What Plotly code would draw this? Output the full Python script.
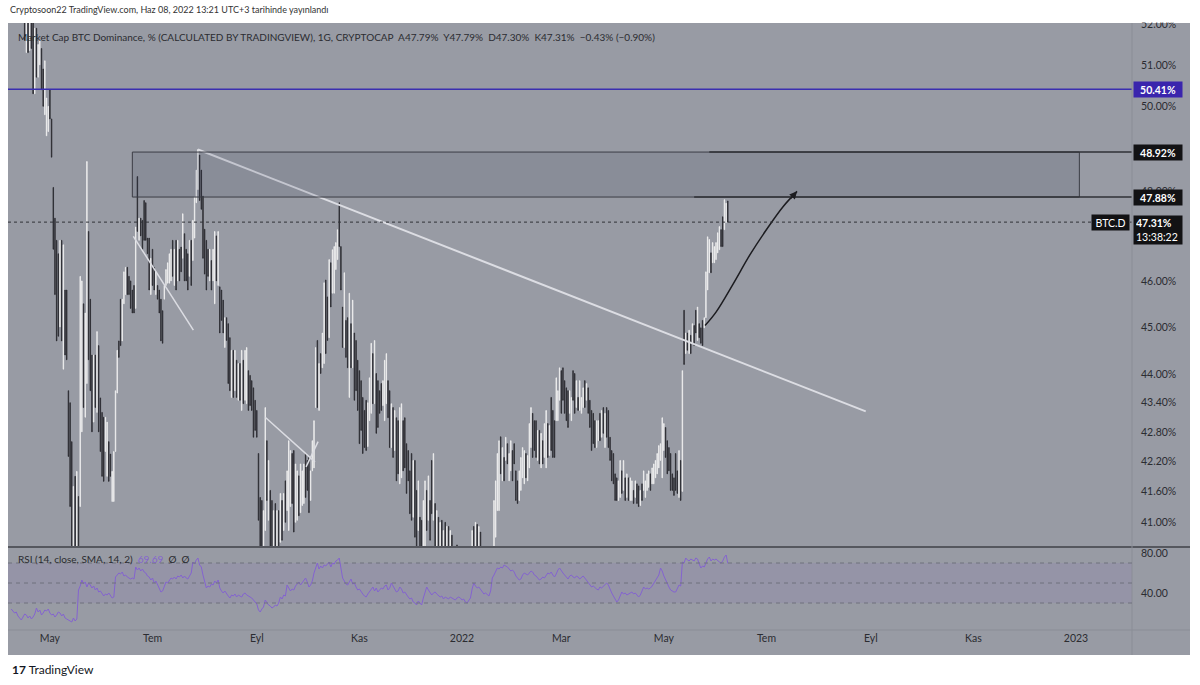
import math
import pandas as pd
import plotly.graph_objects as go

# ---------------- data (daily BTC.D candles) ----------------
start_date = "2021-04-08"

opens = [
    54.6, 54.1, 54.5, 53.8, 53.9, 53.2, 53.4, 52.8, 52.6, 51.3,
    52.4, 51.35, 52.4, 52.2, 50.3, 51.9, 50.7, 51.0, 51.4, 50.9,
    49.8, 49.3, 49.4, 50.4, 49.7, 48.1, 47.4, 46.9, 46.6, 45.0,
    46.9, 44.1, 45.8, 45.8, 43.65, 43.4, 42.6, 40.5, 41.9, 40.4,
    41.5, 41.3, 42.8, 45.5, 43.1, 43.8, 47.1, 45.6, 44.4, 43.0,
    44.4, 43.2, 44.6, 43.5, 43.2, 43.1, 42.4, 41.9, 42.6, 42.35,
    41.4, 41.4, 42.4, 43.6, 44.7, 45.6, 44.7, 45.5, 45.7, 46.3,
    46.1, 46.0, 45.8, 45.9, 45.4, 48.35, 46.9, 47.4, 47.35, 47.8,
    47.75, 46.95, 46.95, 45.7, 46.7, 46.3, 45.7, 45.9, 45.8, 45.6,
    45.35, 45.6, 45.9, 45.95, 45.95, 46.0, 46.9, 45.9, 46.9, 46.0,
    46.7, 46.75, 46.5, 47.05, 46.7, 46.6, 46.1, 46.9, 46.45, 46.95,
    47.75, 48.05, 48.85, 48.5, 47.9, 47.15, 46.9, 46.7, 46.0, 46.45,
    46.0, 45.5, 47.0, 45.9, 45.87, 45.8, 45.58, 44.56, 45.2, 45.07,
    44.77, 43.51, 44.5, 43.65, 44.29, 43.45, 44.22, 43.24, 44.29, 43.45,
    43.38, 44.07, 43.97, 43.86, 43.71, 43.45, 43.24, 42.36, 41.48, 41.42,
    40.45, 40.83, 42.62, 41.03, 41.62, 41.42, 40.45, 41.36, 40.5, 41.22,
    40.6, 41.42, 40.83, 41.81, 41.22, 40.83, 41.3, 42.36, 42.42, 40.99,
    41.03, 41.91, 41.18, 41.32, 41.36, 42.36, 42.22, 42.28, 41.42, 42.01,
    42.07, 43.3, 44.71, 43.24, 44.43, 44.13, 44.22, 46.02, 45.65, 44.77,
    46.4, 45.73, 45.73, 46.25, 46.47, 47.75, 46.76, 45.43, 44.56, 45.14,
    45.2, 43.51, 45.07, 44.13, 44.87, 44.71, 44.29, 44.07, 43.86, 43.51,
    43.24, 43.45, 42.5, 43.03, 43.18, 44.43, 43.38, 44.01, 43.86, 43.65,
    43.8, 43.34, 43.03, 43.38, 43.86, 43.65, 42.48, 43.3, 42.42, 43.09,
    43.03, 41.75, 41.87, 43.03, 43.09, 42.56, 42.42, 42.01, 42.36, 41.09,
    42.22, 41.62, 40.83, 41.09, 41.03, 40.45, 40.4, 41.62, 41.03, 41.42,
    42.22, 41.03, 41.36, 40.45, 41.09, 40.4, 41.03, 40.35, 40.99, 40.4,
    40.91, 40.3, 40.74, 40.3, 39.9, 40.55, 40.1, 40.4, 39.9, 40.3,
    39.8, 40.2, 39.7, 40.1, 40.1, 40.91, 40.35, 40.95, 40.3, 40.8,
    40.3, 39.9, 40.3, 39.7, 40.15, 39.6, 40.2, 40.4, 40.7, 41.22,
    41.22, 42.7, 41.81, 42.28, 42.22, 42.56, 41.81, 42.01, 42.42, 42.56,
    42.01, 41.81, 41.42, 41.62, 41.87, 41.75, 42.36, 41.81, 42.07, 42.48,
    43.18, 43.03, 43.03, 42.22, 42.83, 42.07, 42.62, 42.28, 42.07, 42.97,
    42.32, 43.51, 43.24, 43.03, 43.03, 43.03, 43.45, 44.07, 44.13, 43.86,
    43.71, 43.65, 43.18, 43.03, 44.07, 44.01, 43.3, 43.51, 43.24, 43.18,
    43.3, 43.86, 43.45, 43.71, 43.45, 43.24, 43.18, 43.03, 42.48, 42.62,
    43.18, 42.69, 43.3, 42.48, 43.3, 43.24, 42.69, 42.42, 42.36, 41.95,
    41.87, 41.42, 41.48, 42.01, 41.62, 41.87, 41.48, 41.87, 41.42, 41.42,
    41.62, 41.48, 41.75, 41.71, 41.32, 41.75, 41.62, 41.48, 41.62, 41.68,
    41.95, 41.75, 41.75, 41.87, 41.95, 42.07, 42.22, 41.87, 42.42, 42.89,
    42.62, 42.48, 42.36, 41.95, 41.87, 42.36, 42.01, 41.48, 42.22, 41.6,
    45.36, 44.43, 44.87, 44.43, 44.82, 44.65, 45.03, 45.36, 44.71, 45.07,
    44.98, 45.14, 44.98, 45.2, 45.8, 46.18, 46.62, 46.4, 46.4, 46.47,
    46.62, 46.69, 47.14, 47.43, 47.14, 47.3, 47.79,
]

closes = [
    54.1, 54.5, 53.8, 53.9, 53.2, 53.4, 52.8, 52.9, 51.6, 52.4,
    51.3, 52.3, 51.4, 50.3, 51.9, 50.7, 51.5, 51.6, 50.4, 50.0,
    51.1, 50.2, 50.0, 49.7, 48.8, 46.7, 45.7, 44.7, 44.8, 46.9,
    44.7, 46.8, 44.4, 44.3, 42.3, 41.3, 40.4, 41.7, 40.4, 42.0,
    40.3, 46.1, 46.0, 43.3, 45.3, 48.7, 44.3, 43.65, 42.8, 44.4,
    43.3, 44.9, 42.8, 42.4, 41.9, 41.8, 43.1, 43.0, 41.8, 41.9,
    42.0, 42.4, 43.65, 44.5, 44.35, 44.6, 45.6, 46.2, 46.3, 45.7,
    45.7, 45.4, 45.3, 45.3, 47.2, 47.1, 47.4, 47.0, 46.7, 46.9,
    46.9, 46.6, 45.8, 46.5, 45.9, 45.8, 46.2, 45.6, 45.3, 44.7,
    44.65, 45.9, 46.25, 46.4, 46.6, 46.7, 46.1, 46.7, 45.8, 46.9,
    46.0, 46.2, 47.5, 46.0, 46.0, 45.8, 46.9, 45.9, 47.35, 47.88,
    48.5, 48.98, 47.8, 47.6, 46.5, 46.15, 45.8, 46.1, 46.7, 45.8,
    46.7, 47.1, 46.0, 47.1, 44.87, 45.14, 44.87, 45.2, 44.71, 43.8,
    43.65, 44.5, 43.51, 44.5, 43.51, 44.22, 43.45, 44.5, 43.38, 44.5,
    44.56, 43.24, 43.34, 43.24, 42.69, 42.83, 42.69, 41.03, 40.45, 40.4,
    41.22, 43.3, 41.42, 42.22, 40.45, 40.4, 41.22, 40.4, 41.22, 40.45,
    41.56, 40.64, 41.56, 40.99, 42.01, 42.62, 42.42, 41.36, 40.8, 42.15,
    42.01, 41.12, 42.15, 42.01, 42.15, 41.48, 41.62, 41.18, 42.01, 42.62,
    43.03, 44.56, 43.3, 44.22, 44.01, 44.87, 45.96, 44.43, 44.71, 46.47,
    45.43, 46.69, 46.76, 46.85, 47.14, 46.76, 45.8, 44.56, 46.18, 44.35,
    44.13, 45.73, 44.13, 45.58, 43.45, 43.65, 43.24, 42.56, 42.83, 42.36,
    42.48, 42.42, 43.4, 43.92, 44.65, 43.38, 44.71, 42.77, 42.89, 43.18,
    43.24, 43.86, 44.29, 44.43, 43.09, 42.48, 43.38, 42.28, 43.24, 41.81,
    41.95, 43.3, 43.38, 42.01, 42.07, 41.56, 41.81, 41.16, 41.03, 42.22,
    40.7, 40.45, 41.81, 40.4, 40.4, 41.42, 41.81, 40.83, 41.91, 40.64,
    41.16, 42.36, 40.45, 41.22, 40.4, 40.99, 40.35, 40.83, 40.35, 40.91,
    40.3, 40.83, 40.2, 39.9, 40.35, 40.1, 40.4, 39.9, 40.3, 39.8,
    40.2, 39.7, 40.1, 39.8, 40.83, 40.35, 40.99, 40.3, 40.91, 40.2,
    39.9, 40.3, 39.7, 40.15, 39.6, 40.1, 39.8, 41.42, 41.81, 42.36,
    42.62, 41.95, 42.48, 41.81, 42.69, 42.15, 42.36, 42.62, 41.81, 42.15,
    41.42, 41.36, 42.01, 42.28, 42.48, 42.42, 41.87, 42.32, 42.97, 43.3,
    42.28, 42.42, 42.28, 42.83, 42.15, 42.77, 42.15, 42.97, 43.24, 42.28,
    42.93, 42.42, 42.28, 42.28, 43.92, 43.65, 44.13, 43.18, 43.45, 43.18,
    43.03, 42.89, 43.65, 43.51, 43.45, 43.18, 43.86, 43.24, 43.86, 43.51,
    43.71, 43.3, 43.8, 43.18, 42.89, 42.42, 42.56, 42.48, 43.03, 43.03,
    42.62, 43.24, 42.77, 43.18, 42.69, 42.48, 42.22, 41.81, 41.75, 41.42,
    41.42, 41.81, 42.22, 41.56, 42.22, 41.42, 41.95, 41.42, 41.87, 41.81,
    41.36, 41.81, 41.36, 41.3, 41.62, 41.42, 42.01, 41.81, 41.95, 42.01,
    41.62, 42.07, 42.15, 42.22, 42.36, 42.52, 42.56, 43.09, 42.97, 42.28,
    41.95, 42.01, 41.62, 41.62, 41.52, 41.62, 41.56, 42.42, 41.42, 44.07,
    44.2, 44.87, 44.5, 44.93, 44.43, 45.07, 44.6, 44.87, 45.43, 44.77,
    44.65, 44.6, 45.2, 46.2, 46.98, 46.92, 46.18, 46.85, 46.76, 46.85,
    47.07, 47.21, 46.76, 46.76, 47.82, 47.74, 47.31,
]

rsi_values = [
    24, 22, 20, 21, 17, 15, 13, 16, 19, 18,
    15, 17, 14, 16, 19, 25, 21, 23, 18, 20,
    23, 22, 24, 20, 18, 19, 16, 18, 21, 20,
    17, 19, 15, 14, 13, 12, 11, 15, 12, 14,
    43, 47, 53, 49, 51, 46, 50, 48, 45, 47,
    43, 45, 41, 42, 40, 37, 39, 38, 40, 37,
    35, 36, 56, 58, 60, 59, 61, 57, 58, 56,
    55, 54, 55, 54, 66, 63, 65, 62, 64, 61,
    60, 57, 56, 53, 55, 50, 52, 48, 44, 41,
    42, 47, 51, 50, 53, 55, 54, 56, 54, 57,
    56, 58, 55, 57, 55, 54, 57, 60, 71, 69,
    73, 75, 68, 66, 58, 52, 45, 47, 46, 49,
    48, 52, 50, 53, 45, 42, 40, 42, 39, 37,
    35, 38, 37, 39, 36, 38, 37, 36, 39, 40,
    38, 37, 36, 35, 33, 31, 29, 23, 21, 24,
    26, 33, 30, 28, 27, 25, 26, 28, 27, 30,
    36, 34, 38, 37, 48, 45, 42, 44, 43, 47,
    49, 51, 48, 50, 53, 55, 51, 46, 48, 52,
    60, 66, 70, 64, 67, 65, 68, 67, 69, 71,
    66, 70, 69, 72, 73, 75, 65, 55, 52, 49,
    48, 51, 54, 49, 50, 46, 43, 44, 41, 39,
    37, 36, 39, 41, 44, 46, 42, 45, 41, 43,
    45, 44, 47, 48, 43, 45, 50, 47, 44, 41,
    42, 46, 44, 40, 41, 38, 36, 34, 35, 31,
    30, 28, 32, 30, 28, 35, 40, 46, 43, 41,
    38, 40, 41, 39, 37, 36, 37, 34, 36, 35,
    34, 36, 35, 34, 33, 35, 36, 35, 33, 34,
    31, 30, 33, 35, 44, 50, 47, 45, 46, 44,
    41, 39, 40, 38, 37, 42, 55, 58, 62, 65,
    64, 66, 65, 68, 67, 66, 64, 62, 63, 61,
    57, 55, 53, 54, 58, 60, 59, 58, 60, 62,
    61, 58, 57, 55, 53, 54, 56, 55, 58, 60,
    59, 61, 58, 56, 59, 63, 65, 62, 60, 58,
    56, 54, 57, 58, 56, 55, 57, 56, 54, 56,
    57, 55, 53, 51, 49, 46, 47, 45, 44, 43,
    46, 45, 47, 49, 50, 48, 43, 40, 37, 34,
    31, 33, 37, 41, 39, 40, 38, 39, 40, 41,
    39, 40, 38, 36, 38, 42, 46, 44, 45, 44,
    45, 47, 50, 53, 55, 58, 65, 62, 57, 53,
    49, 46, 43, 42, 41, 41, 45, 48, 47, 71,
    70, 75, 73, 72, 74, 73, 72, 75, 74, 69,
    65, 67, 66, 70, 74, 76, 72, 74, 73, 74,
    72, 71, 70, 72, 76, 78, 69.69,
]

assert len(opens) == len(closes) == len(rsi_values), (len(opens), len(closes), len(rsi_values))

# axis labels
x_tick_dates = ["2021-05-01", "2021-07-01", "2021-09-01", "2021-11-01", "2022-01-01",
                "2022-03-01", "2022-05-01", "2022-07-01", "2022-09-01", "2022-11-01", "2023-01-01"]
x_tick_text = ["May", "Tem", "Eyl", "Kas", "2022", "Mar", "May", "Tem", "Eyl", "Kas", "2023"]
price_ticks = [41.0, 41.6, 42.2, 42.8, 43.4, 44.0, 45.0, 46.0, 48.0, 50.0, 51.0, 52.0]
price_tick_text = ["%.2f%%" % v for v in price_ticks]
rsi_ticks = [40, 80]
rsi_tick_text = ["40.00", "80.00"]

# levels and drawings
level_blue = 50.41
zone_top, zone_bottom = 48.92, 47.88
last_price = 47.31
zone_x = ["2021-06-19", "2023-01-03"]
ray_top_start = "2022-05-28"
ray_bottom_start = "2022-05-19"
trend_main_x = ["2021-07-28", "2022-08-29"]
trend_main_y = [48.98, 43.22]
trend_small1_x = ["2021-06-19 14:00", "2021-07-25 07:00"]
trend_small1_y = [46.99, 44.93]
trend_small2_x = ["2021-09-06", "2021-10-05 14:00"]
trend_small2_y = [43.10, 42.19]
trend_cross_x = ["2021-09-30 07:00", "2021-10-07 10:00"]
trend_cross_y = [42.09, 42.60]
arrow_x = ["2022-05-25 11:00", "2022-06-01", "2022-06-11 03:00", "2022-06-21 05:00",
           "2022-07-01 08:00", "2022-07-10 20:00", "2022-07-19 04:00"]
arrow_y = [45.03, 45.32, 45.93, 46.58, 47.16, 47.66, 48.01]

x_range = ["2021-04-06 02:00", "2023-02-03 07:00"]
price_range = [40.51, 52.03]
rsi_range = [3, 86]

# ---------------- figure ----------------
dates = pd.date_range(start_date, periods=len(closes), freq="D")
highs = [max(o, c) for o, c in zip(opens, closes)]
lows = [min(o, c) for o, c in zip(opens, closes)]

FONT = "Lato"
BG = "#989ba4"
TXT = "#2b2c31"
W, H = 1200, 685
ML, MR, MT, MB = 8, 68, 23, 55
plot_h = H - MT - MB
main_bottom = (630 - 547) / plot_h
chart_right = (1190 - ML) / (W - ML - MR)
chart_bottom = (630 - 655) / plot_h

fig = go.Figure()

fig.add_trace(go.Candlestick(
    x=dates, open=opens, high=highs, low=lows, close=closes,
    increasing=dict(line=dict(color="#f2f2f2", width=0.7), fillcolor="#f2f2f2"),
    decreasing=dict(line=dict(color="#26272c", width=0.7), fillcolor="#26272c"),
    whiskerwidth=0, xaxis="x", yaxis="y", showlegend=False, hoverinfo="skip",
))

for xs, ys, w in [(trend_main_x, trend_main_y, 2), (trend_small1_x, trend_small1_y, 1.5),
                  (trend_small2_x, trend_small2_y, 1.5), (trend_cross_x, trend_cross_y, 1.5)]:
    fig.add_trace(go.Scatter(x=xs, y=ys, mode="lines", line=dict(color="#dcdde3", width=w),
                             xaxis="x", yaxis="y", showlegend=False, hoverinfo="skip"))

fig.add_trace(go.Scatter(x=arrow_x, y=arrow_y, mode="lines",
                         line=dict(color="#1c1c20", width=1.5, shape="spline"),
                         xaxis="x", yaxis="y", showlegend=False, hoverinfo="skip"))

fig.add_trace(go.Scatter(x=dates, y=rsi_values, mode="lines",
                         line=dict(color="#8463d0", width=1),
                         xaxis="x2", yaxis="y2", showlegend=False, hoverinfo="skip"))

shapes = [
    dict(type="rect", xref="paper", yref="paper", x0=0, x1=chart_right, y0=chart_bottom, y1=1,
         fillcolor=BG, line=dict(width=0), layer="below"),
    dict(type="rect", xref="paper", yref="y2", x0=0, x1=1, y0=30, y1=70,
         fillcolor="rgba(126,87,194,0.10)", line=dict(width=0), layer="below"),
    dict(type="rect", xref="x", yref="y", x0=zone_x[0], x1=zone_x[1], y0=zone_bottom, y1=zone_top,
         fillcolor="rgba(40,45,80,0.13)", line=dict(color="#3b3d45", width=1), layer="above"),
    dict(type="line", xref="x", yref="y", x0=ray_top_start, x1="2023-02-20", y0=zone_top, y1=zone_top,
         line=dict(color="#2f3036", width=1.5)),
    dict(type="line", xref="x", yref="y", x0=ray_bottom_start, x1="2023-02-20", y0=zone_bottom, y1=zone_bottom,
         line=dict(color="#2f3036", width=1.5)),
    dict(type="line", xref="paper", yref="y", x0=0, x1=1, y0=level_blue, y1=level_blue,
         line=dict(color="#3a2fb0", width=1.5)),
    dict(type="line", xref="paper", yref="y", x0=0, x1=1, y0=last_price, y1=last_price,
         line=dict(color="#303136", width=1, dash="dot")),
    dict(type="line", xref="paper", yref="paper", x0=0, x1=chart_right, y0=main_bottom, y1=main_bottom,
         line=dict(color="#55575e", width=2)),
    dict(type="line", xref="paper", yref="paper", x0=1, x1=1, y0=chart_bottom, y1=1,
         line=dict(color="#8a8d96", width=1)),
    dict(type="line", xref="paper", yref="paper", x0=0, x1=chart_right, y0=0, y1=0,
         line=dict(color="#8a8d96", width=1)),
]
for lvl in (70, 50, 30):
    shapes.append(dict(type="line", xref="paper", yref="y2", x0=0, x1=1, y0=lvl, y1=lvl,
                       line=dict(color="#6e717c", width=1, dash="4px,4px")))

lg = math.log10
annotations = [
    # white strip at the top (masks the cut 52.00% label)
    dict(xref="paper", yref="paper", x=0, y=1, xanchor="left", yanchor="bottom", xshift=-ML,
         text=" ", showarrow=False, width=W, height=MT, bgcolor="white", borderpad=0),
    dict(xref="paper", yref="paper", x=0, y=1, xanchor="left", yanchor="bottom", yshift=6,
         text="Cryptosoon22 TradingView.com, Haz 08, 2022 13:21 UTC+3 tarihinde yayınlandı",
         showarrow=False, font=dict(family=FONT, size=9, color="#333")),
    dict(xref="paper", yref="paper", x=0, y=1, xanchor="left", yanchor="top", xshift=8, yshift=-6,
         text="Market Cap BTC Dominance, % (CALCULATED BY TRADINGVIEW), 1G, CRYPTOCAP  "
              "A47.79%  Y47.79%  D47.30%  K47.31%  \u22120.43% (\u22120.90%)",
         showarrow=False, font=dict(family=FONT, size=10, color=TXT)),
    dict(xref="paper", yref="paper", x=0, y=main_bottom, xanchor="left", yanchor="top", xshift=8, yshift=-4,
         text="RSI (14, close, SMA, 14, 2)  <span style='color:#8463d0'>69.69</span>  \u00d8  \u00d8",
         showarrow=False, font=dict(family=FONT, size=10, color=TXT)),
    dict(xref="paper", yref="paper", x=0, y=0, xanchor="left", yanchor="top", xshift=2, yshift=-30,
         text="<b>17</b> TradingView", showarrow=False, font=dict(family=FONT, size=12, color="#131722")),
    # price labels on the axis
    dict(xref="paper", yref="y", x=1, y=lg(level_blue), xanchor="left", yanchor="middle", xshift=1,
         text="<b>50.41%</b>", showarrow=False, width=44, height=11, borderpad=2, bgcolor="#3a25ad",
         font=dict(family=FONT, size=10.5, color="white")),
    dict(xref="paper", yref="y", x=1, y=lg(zone_top), xanchor="left", yanchor="middle", xshift=1,
         text="<b>48.92%</b>", showarrow=False, width=44, height=11, borderpad=2, bgcolor="#121214",
         font=dict(family=FONT, size=10.5, color="white")),
    dict(xref="paper", yref="y", x=1, y=lg(zone_bottom), xanchor="left", yanchor="middle", xshift=1,
         text="<b>47.88%</b>", showarrow=False, width=44, height=11, borderpad=2, bgcolor="#121214",
         font=dict(family=FONT, size=10.5, color="white")),
    dict(xref="paper", yref="y", x=1, y=lg(last_price), xanchor="left", yanchor="top", xshift=1, yshift=7,
         text="<b>47.31%</b><br>13:38:22", showarrow=False, width=44, height=24, borderpad=2,
         bgcolor="#121214", align="left", font=dict(family=FONT, size=10.5, color="white")),
    dict(xref="paper", yref="y", x=1, y=lg(last_price), xanchor="right", yanchor="middle", xshift=-2,
         text="BTC.D", showarrow=False, width=33, height=11, borderpad=2, bgcolor="#121214",
         font=dict(family=FONT, size=10.5, color="white")),
    # arrow head of the drawn projection
    dict(xref="x", yref="y", x=arrow_x[-1], y=lg(arrow_y[-1]), ax=-8, ay=9, text="",
         showarrow=True, arrowhead=2, arrowsize=1, arrowwidth=1.5, arrowcolor="#1c1c20"),
]

fig.update_layout(
    width=W, height=H,
    margin=dict(l=ML, r=MR, t=MT, b=MB),
    paper_bgcolor="white", plot_bgcolor=BG,
    showlegend=False, boxgap=0.55,
    shapes=shapes, annotations=annotations,
    font=dict(family=FONT, size=11, color=TXT),
    xaxis=dict(domain=[0, 1], anchor="y", type="date", range=x_range, matches="x2",
               showgrid=False, zeroline=False, showticklabels=False, ticks="",
               rangeslider=dict(visible=False)),
    yaxis=dict(domain=[main_bottom, 1], anchor="x", type="log",
               range=[lg(price_range[0]), lg(price_range[1])], side="right",
               tickvals=price_ticks, ticktext=price_tick_text, ticks="", ticklabelstandoff=8,
               showgrid=False, zeroline=False, tickfont=dict(family=FONT, size=10.5, color=TXT)),
    xaxis2=dict(domain=[0, 1], anchor="y2", type="date", range=x_range,
                tickvals=x_tick_dates, ticktext=x_tick_text, ticks="", showgrid=False, zeroline=False,
                tickfont=dict(family=FONT, size=10.5, color=TXT), rangeslider=dict(visible=False)),
    yaxis2=dict(domain=[0, main_bottom], anchor="x2", range=rsi_range, side="right",
                tickvals=rsi_ticks, ticktext=rsi_tick_text, ticks="", ticklabelstandoff=8,
                showgrid=False, zeroline=False, tickfont=dict(family=FONT, size=10.5, color=TXT)),
)

fig.write_html("out.html", config={"displayModeBar": False},
               post_script="document.body.style.margin='0';document.body.style.overflow='hidden';")
